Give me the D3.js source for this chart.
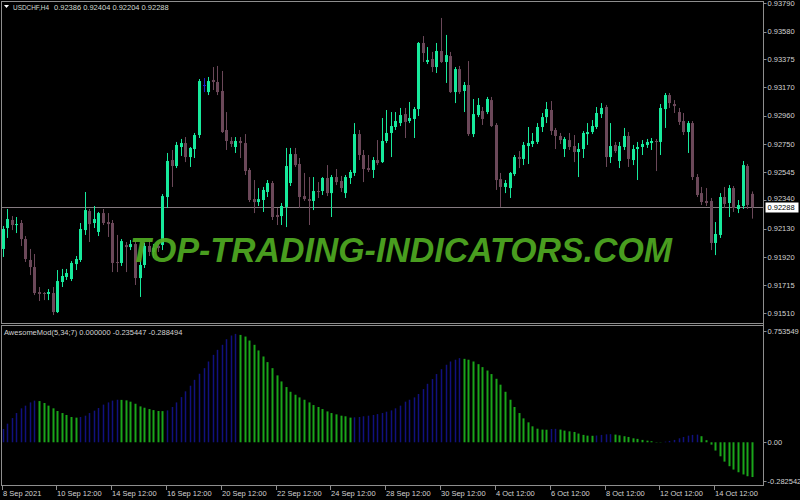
<!DOCTYPE html>
<html lang="en">
<head>
<meta charset="UTF-8">
<title>USDCHF,H4 - AwesomeMod</title>
<script src="https://d3js.org/d3.v7.min.js"></script>
<style>
  body { margin: 0; background: #000; }
  svg { display: block; }
  text { font-family: "Liberation Sans", Arial, sans-serif; }
</style>
</head>
<body>
<script>

// ---- data (H4 bars, oldest first) ----
var openP = [
  0.91981,0.92135,0.92194,0.92157,0.92172,0.92054,0.91900,0.91848,0.91664,0.91657,
  0.91650,0.91657,0.91517,0.91738,0.91775,0.91760,0.91870,0.91900,0.92120,0.92260,
  0.92172,0.92106,0.92245,0.92179,0.92172,0.91885,0.91878,0.92010,0.91995,0.92017,
  0.91767,0.91863,0.92003,0.91959,0.92003,0.92010,0.92363,0.92635,0.92591,0.92731,
  0.92760,0.92657,0.92716,0.92819,0.93187,0.93135,0.93224,0.93209,0.93143,0.92856,
  0.92775,0.92731,0.92775,0.92760,0.92562,0.92348,0.92326,0.92341,0.92400,0.92466,
  0.92231,0.92223,0.92290,0.92466,0.92679,0.92606,0.92370,0.92348,0.92334,0.92407,
  0.92407,0.92503,0.92392,0.92510,0.92481,0.92392,0.92503,0.92540,0.92826,0.92672,
  0.92576,0.92562,0.92635,0.92620,0.92775,0.92834,0.92878,0.92907,0.92973,0.92922,
  0.92937,0.93010,0.93496,0.93356,0.93378,0.93319,0.93437,0.93356,0.93400,0.93135,
  0.93304,0.93143,0.93187,0.92826,0.92966,0.92996,0.92988,0.93076,0.92893,0.92495,
  0.92437,0.92429,0.92532,0.92657,0.92643,0.92738,0.92753,0.92768,0.92878,0.92951,
  0.93003,0.92856,0.92812,0.92716,0.92782,0.92738,0.92694,0.92716,0.92826,0.92841,
  0.92878,0.92973,0.93025,0.92657,0.92746,0.92628,0.92731,0.92812,0.92635,0.92716,
  0.92731,0.92746,0.92760,0.92775,0.92768,0.93010,0.93113,0.93047,0.92988,0.92922,
  0.92841,0.92907,0.92510,0.92392,0.92334,0.92334,0.92025,0.92084,0.92363,0.92319,
  0.92429,0.92275,0.92297,0.92591,0.92386
];
var highP = [
  0.92150,0.92275,0.92223,0.92216,0.92194,0.92076,0.91981,0.91944,0.91701,0.91664,
  0.91686,0.91701,0.91826,0.91834,0.91834,0.91892,0.91929,0.92172,0.92400,0.92275,
  0.92297,0.92253,0.92275,0.92245,0.92194,0.92084,0.92054,0.92032,0.92047,0.92039,
  0.91907,0.92025,0.92047,0.92017,0.92017,0.92385,0.92687,0.92709,0.92768,0.92790,
  0.92804,0.92731,0.92834,0.93231,0.93238,0.93246,0.93319,0.93327,0.93290,0.92988,
  0.92804,0.92804,0.92804,0.92826,0.92576,0.92488,0.92429,0.92437,0.92488,0.92481,
  0.92282,0.92319,0.92724,0.92724,0.92724,0.92650,0.92540,0.92510,0.92510,0.92473,
  0.92510,0.92598,0.92525,0.92569,0.92518,0.92525,0.92562,0.92907,0.92856,0.92709,
  0.92672,0.92657,0.92782,0.92944,0.93003,0.92988,0.92988,0.93018,0.93018,0.93062,
  0.93025,0.93503,0.93547,0.93466,0.93430,0.93496,0.93680,0.93555,0.93430,0.93319,
  0.93327,0.93209,0.93363,0.93084,0.93091,0.93025,0.93099,0.93099,0.92907,0.92540,
  0.92488,0.92547,0.92672,0.92701,0.92768,0.92878,0.92834,0.92907,0.92981,0.93062,
  0.93069,0.92871,0.92834,0.92804,0.92834,0.92819,0.92760,0.92848,0.92907,0.92929,
  0.93025,0.93054,0.93040,0.92907,0.92768,0.92768,0.92871,0.92841,0.92746,0.92768,
  0.92782,0.92790,0.92797,0.92790,0.93047,0.93128,0.93128,0.93076,0.93018,0.92981,
  0.92922,0.92922,0.92532,0.92437,0.92429,0.92356,0.92179,0.92392,0.92437,0.92451,
  0.92444,0.92341,0.92628,0.92606,0.92404
];
var lowP = [
  0.91922,0.92062,0.92120,0.92098,0.92003,0.91885,0.91789,0.91642,0.91598,0.91605,
  0.91605,0.91495,0.91510,0.91701,0.91753,0.91745,0.91826,0.91885,0.92084,0.92032,
  0.92135,0.92076,0.92157,0.92069,0.91811,0.91811,0.91856,0.91811,0.91973,0.91716,
  0.91628,0.91841,0.91929,0.91914,0.91959,0.91973,0.92282,0.92437,0.92576,0.92665,
  0.92620,0.92584,0.92650,0.92797,0.93135,0.93113,0.93150,0.93113,0.92834,0.92709,
  0.92731,0.92687,0.92650,0.92525,0.92326,0.92245,0.92297,0.92253,0.92363,0.92194,
  0.92157,0.92157,0.92142,0.92444,0.92584,0.92282,0.92334,0.92157,0.92267,0.92356,
  0.92378,0.92370,0.92216,0.92451,0.92400,0.92356,0.92459,0.92518,0.92635,0.92473,
  0.92547,0.92503,0.92598,0.92613,0.92760,0.92657,0.92856,0.92885,0.92797,0.92907,
  0.92797,0.92959,0.93356,0.93341,0.93282,0.93275,0.93349,0.93202,0.93128,0.93054,
  0.93121,0.92988,0.92812,0.92804,0.92951,0.92893,0.92973,0.92878,0.92415,0.92290,
  0.92392,0.92356,0.92518,0.92576,0.92598,0.92606,0.92731,0.92753,0.92841,0.92907,
  0.92819,0.92716,0.92753,0.92657,0.92709,0.92620,0.92510,0.92650,0.92746,0.92826,
  0.92863,0.92944,0.92584,0.92613,0.92687,0.92576,0.92709,0.92584,0.92598,0.92488,
  0.92672,0.92724,0.92709,0.92554,0.92672,0.92871,0.93018,0.92981,0.92893,0.92819,
  0.92687,0.92488,0.92363,0.92304,0.92297,0.91973,0.91936,0.92062,0.92282,0.92216,
  0.92253,0.92245,0.92275,0.92275,0.92204
];
var closeP = [
  0.92128,0.92201,0.92157,0.92164,0.92054,0.91907,0.91848,0.91657,0.91650,0.91650,
  0.91664,0.91517,0.91745,0.91782,0.91804,0.91878,0.91907,0.92128,0.92267,0.92164,
  0.92201,0.92245,0.92172,0.92164,0.91878,0.91878,0.92039,0.91995,0.92017,0.91767,
  0.91863,0.92003,0.91959,0.91988,0.91988,0.92370,0.92628,0.92591,0.92746,0.92760,
  0.92657,0.92724,0.92819,0.93216,0.93187,0.93216,0.93209,0.93135,0.92841,0.92775,
  0.92753,0.92775,0.92760,0.92554,0.92341,0.92326,0.92348,0.92415,0.92466,0.92216,
  0.92216,0.92297,0.92591,0.92679,0.92598,0.92363,0.92348,0.92334,0.92407,0.92400,
  0.92503,0.92392,0.92510,0.92473,0.92429,0.92510,0.92547,0.92826,0.92672,0.92569,
  0.92562,0.92635,0.92613,0.92775,0.92834,0.92885,0.92922,0.92966,0.92915,0.92944,
  0.93010,0.93496,0.93422,0.93371,0.93319,0.93437,0.93356,0.93407,0.93135,0.93304,
  0.93135,0.93187,0.92826,0.92973,0.93040,0.92937,0.93084,0.92885,0.92488,0.92437,
  0.92466,0.92540,0.92657,0.92643,0.92746,0.92760,0.92775,0.92878,0.92951,0.93010,
  0.92849,0.92812,0.92782,0.92790,0.92731,0.92694,0.92716,0.92834,0.92841,0.92885,
  0.92981,0.93018,0.92657,0.92738,0.92701,0.92738,0.92812,0.92643,0.92716,0.92731,
  0.92753,0.92768,0.92775,0.92768,0.93018,0.93113,0.93054,0.93032,0.92915,0.92841,
  0.92907,0.92510,0.92378,0.92326,0.92319,0.92025,0.92091,0.92363,0.92312,0.92429,
  0.92282,0.92304,0.92598,0.92304,0.92288
];

// AwesomeMod(5,34;7) histogram, one value per bar
var aoValues = [
  0.090,0.126,0.164,0.198,0.230,0.248,0.270,0.282,
  0.279,0.266,0.248,0.230,0.212,0.198,0.185,0.171,0.167,
  0.171,0.180,0.198,0.214,0.232,0.255,0.270,0.282,0.288,
  0.287,0.284,0.275,0.261,0.243,0.234,0.225,0.218,0.212,0.211,
  0.216,0.239,0.270,0.306,0.345,0.383,0.423,0.464,0.502,0.547,0.592,0.626,0.660,0.698,0.723,0.734,
  0.727,0.716,0.689,0.660,0.622,0.581,0.543,0.502,0.453,0.412,0.374,0.342,0.322,0.304,
  0.288,0.270,0.252,0.239,0.225,0.209,0.198,0.189,0.180,0.176,0.167,
  0.169,0.171,0.176,0.180,0.185,0.191,0.198,0.207,0.216,0.230,0.248,
  0.275,0.288,0.304,0.327,0.360,0.396,0.428,0.462,0.495,0.525,0.547,0.559,0.570,
  0.565,0.559,0.547,0.529,0.509,0.486,0.462,0.430,0.390,0.342,0.288,0.239,0.198,0.162,0.135,0.108,0.092,0.086,0.085,
  0.090,0.091,
  0.086,0.079,0.074,0.070,0.059,0.050,0.045,0.044,
  0.046,0.050,0.054,0.055,
  0.052,0.047,0.041,0.036,0.027,0.023,0.016,0.011,0.007,0.002,0.0015,
  0.004,0.009,0.016,0.027,0.036,0.045,0.050,0.052,
  0.041,0.014,-0.016,-0.056,-0.095,-0.131,-0.162,-0.185,-0.203,-0.218,-0.230,-0.235447
];

var priceTicks = [0.93790,0.93580,0.93375,0.93170,0.92960,0.92750,0.92545,0.92340,0.92130,0.91920,0.91715,0.91510];
var aoMin = -0.282542, aoMax = 0.753549;

var timeLabels = ["8 Sep 2021","10 Sep 12:00","14 Sep 12:00","16 Sep 12:00","20 Sep 12:00","22 Sep 12:00","24 Sep 12:00",
                  "28 Sep 12:00","30 Sep 12:00","4 Oct 12:00","6 Oct 12:00","8 Oct 12:00","12 Oct 12:00","14 Oct 12:00"];
var timeLabelBars = [0,12,24,36,48,60,72,84,96,108,120,132,144,156];

var symbol = "USDCHF,H4";
var indicatorName = "AwesomeMod(5,34;7) 0.000000 -0.235447 -0.288494";

// ---- layout ----
var width = 800, height = 500;
var axisX = 763.5;
var n = closeP.length;

var bullColor = "#17ea9c", bearColor = "#6b4859", dojiColor = "#2020c8";
var aoUp = "#11117e", aoDown = "#1aa51a";
var frameColor = "#8e8e8e", labelColor = "#d2d2d2";

var x = d3.scaleLinear().domain([0, n - 1]).range([2.5, 751.7]);
var y = d3.scaleLinear().domain([0.91510, 0.93790]).range([313, 3]);
var aoY = d3.scaleLinear().domain([aoMin, aoMax]).range([484, 331]);

var svg = d3.select("body").append("svg")
    .attr("width", width)
    .attr("height", height);

svg.append("rect").attr("width", width).attr("height", height).attr("fill", "#000");

// panel frames
svg.append("rect")
    .attr("x", 1.5).attr("y", 1.5)
    .attr("width", axisX - 1.5).attr("height", 322)
    .attr("fill", "none").attr("stroke", frameColor);
svg.append("rect")
    .attr("x", 1.5).attr("y", 325.5)
    .attr("width", axisX - 1.5).attr("height", 160)
    .attr("fill", "none").attr("stroke", frameColor);

// current price line
var last = closeP[n - 1];
svg.append("line")
    .attr("x1", 2).attr("x2", axisX)
    .attr("y1", Math.round(y(last)) + 0.5).attr("y2", Math.round(y(last)) + 0.5)
    .attr("stroke", "#857a80");

// candles
var candles = svg.append("g").attr("class", "candles");
var idx = d3.range(n);
function candleColor(i) {
    if (closeP[i] > openP[i]) return bullColor;
    if (closeP[i] < openP[i]) return bearColor;
    return dojiColor;
}
candles.selectAll(".wick")
    .data(idx)
    .enter().append("line")
    .attr("class", "wick")
    .attr("x1", function(i) { return Math.round(x(i)) + 0.5; })
    .attr("x2", function(i) { return Math.round(x(i)) + 0.5; })
    .attr("y1", function(i) { return y(highP[i]); })
    .attr("y2", function(i) { return y(lowP[i]); })
    .attr("stroke", candleColor)
    .attr("stroke-width", 1);
candles.selectAll(".body")
    .data(idx)
    .enter().append("rect")
    .attr("class", "body")
    .attr("x", function(i) { return Math.round(x(i)) - 1; })
    .attr("y", function(i) { return y(Math.max(openP[i], closeP[i])); })
    .attr("width", 3)
    .attr("height", function(i) { return Math.max(1, Math.abs(y(openP[i]) - y(closeP[i]))); })
    .attr("fill", candleColor);

// price axis
var pa = svg.append("g").attr("class", "price-axis");
pa.append("line")
    .attr("x1", axisX).attr("x2", axisX).attr("y1", 1).attr("y2", 486)
    .attr("stroke", frameColor);
pa.selectAll(".tick")
    .data(priceTicks)
    .enter().append("line")
    .attr("x1", axisX).attr("x2", axisX + 3)
    .attr("y1", function(d) { return Math.round(y(d)) + 0.5; })
    .attr("y2", function(d) { return Math.round(y(d)) + 0.5; })
    .attr("stroke", frameColor);
// the label nearest the live price sits just above the price tag
pa.selectAll(".lbl")
    .data(priceTicks)
    .enter().append("text")
    .attr("x", axisX + 4)
    .attr("y", function(d) {
        var py = y(d);
        return Math.abs(py - y(closeP[n - 1])) < 9 ? Math.min(py, y(closeP[n - 1]) - 9) : py;
    })
    .attr("dy", "0.35em")
    .attr("font-size", 7.5)
    .attr("fill", labelColor)
    .text(function(d) { return d.toFixed(5); });

// current price tag
pa.append("rect")
    .attr("x", axisX + 2).attr("y", Math.round(y(last)) - 4.5)
    .attr("width", 33).attr("height", 10)
    .attr("fill", "#fff");
pa.append("text")
    .attr("x", axisX + 4)
    .attr("y", y(last))
    .attr("dy", "0.37em")
    .attr("font-size", 7.5)
    .attr("fill", "#000")
    .text(last.toFixed(5));

// AO histogram
var ao = svg.append("g").attr("class", "ao");
ao.selectAll("line")
    .data(idx)
    .enter().append("line")
    .attr("x1", function(i) { return Math.round(x(i)) + 0.5; })
    .attr("x2", function(i) { return Math.round(x(i)) + 0.5; })
    .attr("y1", aoY(0))
    .attr("y2", function(i) { return aoY(aoValues[i]); })
    .attr("stroke", function(i) {
        return (i === 0 || aoValues[i] >= aoValues[i - 1]) ? aoUp : aoDown;
    })
    .attr("stroke-width", function(i) {
        return (i === 0 || aoValues[i] >= aoValues[i - 1]) ? 1.5 : 2;
    });

// AO scale labels
var aoLabels = [
    {t: aoMax.toFixed(6), yy: aoY(aoMax)},
    {t: "0.00", yy: aoY(0)},
    {t: aoMin.toFixed(6), yy: aoY(aoMin) - 3}
];
ao.selectAll(".tick")
    .data(aoLabels)
    .enter().append("line")
    .attr("x1", axisX).attr("x2", axisX + 3)
    .attr("y1", function(d) { return Math.round(d.yy) + 0.5; })
    .attr("y2", function(d) { return Math.round(d.yy) + 0.5; })
    .attr("stroke", frameColor);
ao.selectAll("text")
    .data(aoLabels)
    .enter().append("text")
    .attr("x", axisX + 4)
    .attr("y", function(d) { return d.yy; })
    .attr("dy", "0.35em")
    .attr("font-size", 7.5)
    .attr("fill", labelColor)
    .text(function(d) { return d.t; });

// time axis
var ta = svg.append("g").attr("class", "time-axis");
ta.selectAll("line")
    .data(timeLabelBars)
    .enter().append("line")
    .attr("x1", function(i) { return Math.round(x(i)) - 0.5; })
    .attr("x2", function(i) { return Math.round(x(i)) - 0.5; })
    .attr("y1", 486).attr("y2", 490)
    .attr("stroke", frameColor);
ta.selectAll("text")
    .data(timeLabelBars)
    .enter().append("text")
    .attr("x", function(i) { return Math.round(x(i)); })
    .attr("y", 495.5)
    .attr("font-size", 7.5)
    .attr("fill", labelColor)
    .text(function(i, k) { return timeLabels[k]; });

// headers
svg.append("path")
    .attr("d", "M4,5 L9,5 L6.5,8 Z")
    .attr("fill", "#fff");
svg.append("text")
    .attr("x", 13).attr("y", 10)
    .attr("font-size", 7.5).attr("fill", "#d3dcd3")
    .attr("textLength", 36).attr("lengthAdjust", "spacingAndGlyphs")
    .text(symbol);
svg.append("text")
    .attr("x", 54).attr("y", 10)
    .attr("font-size", 7.5).attr("fill", "#d3dcd3")
    .text([openP[n - 1], highP[n - 1], lowP[n - 1], closeP[n - 1]].map(function(v) { return v.toFixed(5); }).join(" "));
svg.append("text")
    .attr("x", 4).attr("y", 334.5)
    .attr("font-size", 7.5).attr("fill", "#d3d3d3")
    .text(indicatorName);

// watermark
svg.append("text")
    .attr("x", 401).attr("y", 262)
    .attr("text-anchor", "middle")
    .attr("font-family", "'DejaVu Sans', sans-serif")
    .attr("font-weight", "bold")
    .attr("font-style", "italic")
    .attr("font-size", 35)
    .attr("textLength", 542)
    .attr("lengthAdjust", "spacingAndGlyphs")
    .attr("fill", "#50ab22")
    .attr("opacity", 0.92)
    .text("TOP-TRADING-INDICATORS.COM");

</script>
</body>
</html>
